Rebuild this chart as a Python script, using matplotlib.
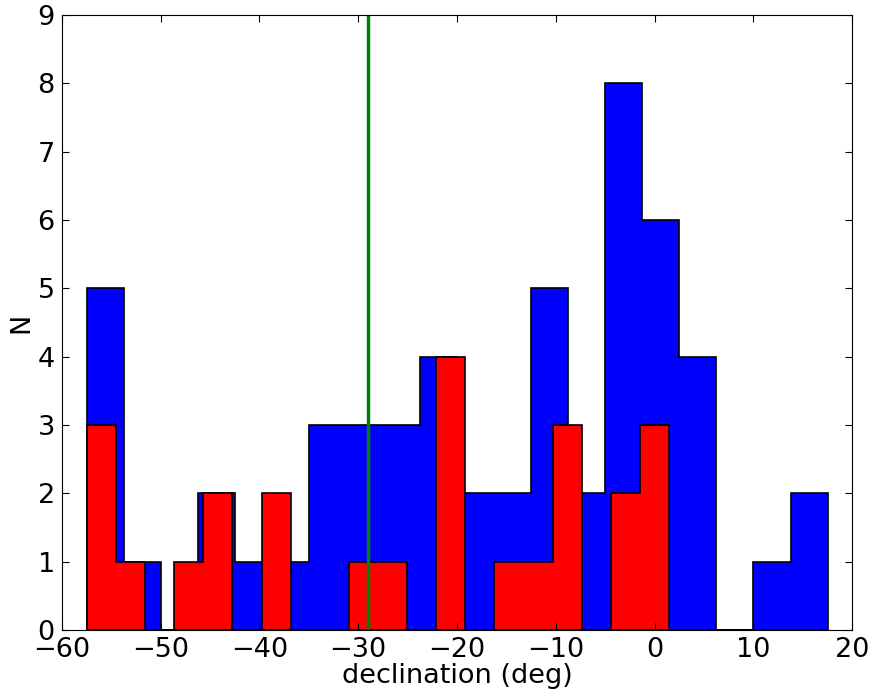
import numpy as np
import matplotlib
matplotlib.use("Agg")
import matplotlib.pyplot as plt

# counts (20 bins each)
all_counts = [5, 1, 0, 2, 1, 1, 3, 3, 3, 4, 2, 2, 5, 2, 8, 6, 4, 0, 1, 2]
all_range = (-57.45, 17.5)

sub_counts = [3, 1, 0, 1, 2, 0, 2, 0, 0, 1, 1, 0, 4, 0, 1, 1, 3, 0, 2, 3]
sub_range = (-57.45, 1.45)

cut_dec = -29.0

all_edges = np.linspace(all_range[0], all_range[1], len(all_counts) + 1)
sub_edges = np.linspace(sub_range[0], sub_range[1], len(sub_counts) + 1)

fig = plt.figure(figsize=(8.74, 6.99), dpi=100)
ax = fig.add_axes([0.0706, 0.0987, 0.9045, 0.8798])

ax.hist(all_edges[:-1], bins=all_edges, weights=all_counts, histtype='stepfilled',
        facecolor='blue', edgecolor='black', linewidth=1.2)
ax.hist(sub_edges[:-1], bins=sub_edges, weights=sub_counts, histtype='stepfilled',
        facecolor='red', edgecolor='black', linewidth=1.2)
ax.axvline(cut_dec, color='green', linewidth=2.5)

ax.set_xlim(-60, 20)
ax.set_ylim(0, 9)
ax.set_xticks(range(-60, 21, 10))
ax.set_yticks(range(0, 10))
ax.tick_params(direction='in', top=True, right=True, length=5, labelsize=19.5, pad=5)
ax.set_xlabel("declination (deg)", fontsize=19.5, labelpad=0)
ax.set_ylabel("N", fontsize=19.5, labelpad=2)

fig.savefig("out.png", dpi=100)
